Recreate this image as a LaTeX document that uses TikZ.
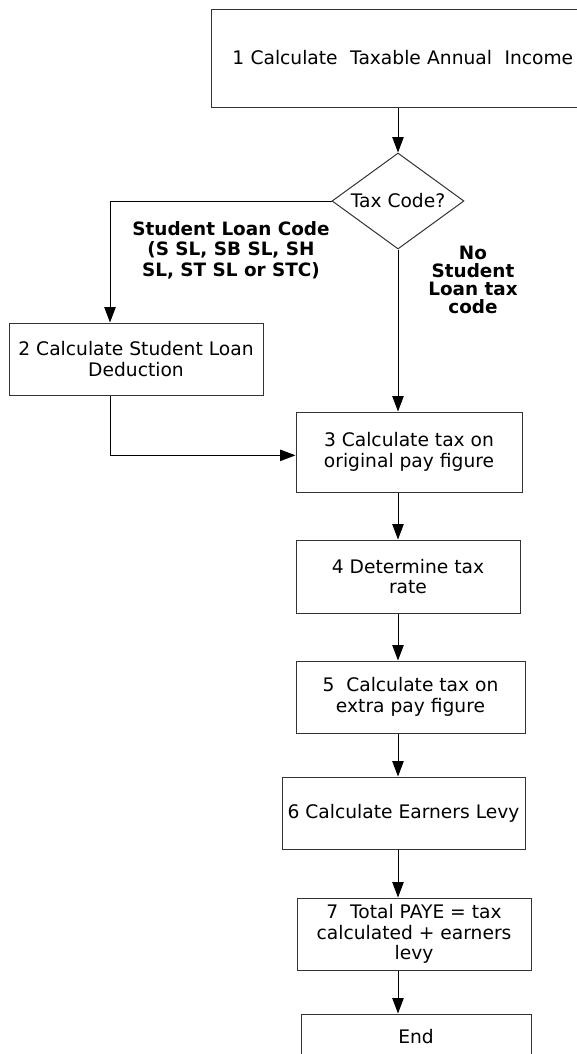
\documentclass[tikz,border=0pt]{standalone}
\usepackage{fontspec}
\setmainfont{DejaVu Sans}
\usetikzlibrary{shapes.geometric,arrows.meta}

\begin{document}
\begin{tikzpicture}[x=0.75pt, y=-0.75pt,
    block/.style ={rectangle, draw=black!80, line width=0.75pt, inner sep=2pt,
      align=center, font=\fontsize{14}{15.5}\selectfont},
    decision/.style ={diamond, draw=black!80, line width=0.75pt, inner sep=0pt,
      aspect=1.375, minimum width=99pt, minimum height=72pt,
      font=\fontsize{14}{15.5}\selectfont},
    branch/.style ={align=center, font=\fontsize{13.8}{15.4}\selectfont\bfseries},
    flow/.style ={line width=0.75pt, -{Triangle[length=11.5pt, width=8.5pt]}}]
   \useasboundingbox (0,0) rectangle (577,1054);
   \node[block, minimum width=275.25pt, minimum height=73.5pt, text width=268pt,
     align=right] (S1) at (394.5,58) {1 Calculate\ \ Taxable Annual\ \ Income};
   \node[decision] (Q) at (398,201) {Tax Code?};
   \node[block, minimum width=190.5pt, minimum height=54pt] (S2) at (136,359) {2 Calculate Student Loan\\Deduction};
   \node[block, minimum width=169.5pt, minimum height=60pt] (S3) at (409,452) {3 Calculate tax on\\original pay figure};
   \node[block, minimum width=168pt, minimum height=54.75pt] (S4) at (408,576.5) {4 Determine tax\\rate};
   \node[block, minimum width=171.75pt, minimum height=54pt] (S5) at (410.5,697) {5\ \ Calculate tax on\\extra pay figure};
   \node[block, minimum width=182.25pt, minimum height=54pt] (S6) at (403.5,813) {6 Calculate Earners Levy};
   \node[block, minimum width=175.5pt, minimum height=54pt] (S7) at (414,934) {7\ \ Total PAYE = tax\\calculated + earners\\levy};
   \node[block, minimum width=172.5pt, minimum height=34.5pt] (E) at (416,1037) {End};
   \node[branch] (yes) at (231,250) {Student Loan Code\\(S SL, SB SL, SH\\SL, ST SL or STC)};
   \node[branch, font=\fontsize{13.8}{13.7}\selectfont\bfseries] (no) at (473,280) {No\\Student\\Loan tax\\code};
   \coordinate (L) at (110,201);
   \draw[flow] (S1.south -| Q) -- (Q.north);
   \draw[flow] (Q.west) -- (L) -- (L |- S2.north);
   \draw[flow] (Q.south) -- (Q |- S3.north);
   \draw[flow] (L |- S2.south) |- ([yshift=-2.5pt]S3.west);
   \draw[flow] (S3.south -| Q) -- (Q |- S4.north);
   \draw[flow] (S4.south -| Q) -- (Q |- S5.north);
   \draw[flow] (S5.south -| Q) -- (Q |- S6.north);
   \draw[flow] (S6.south -| Q) -- (Q |- S7.north);
   \draw[flow] (S7.south -| Q) -- (Q |- E.north);
\end{tikzpicture}
\end{document}
